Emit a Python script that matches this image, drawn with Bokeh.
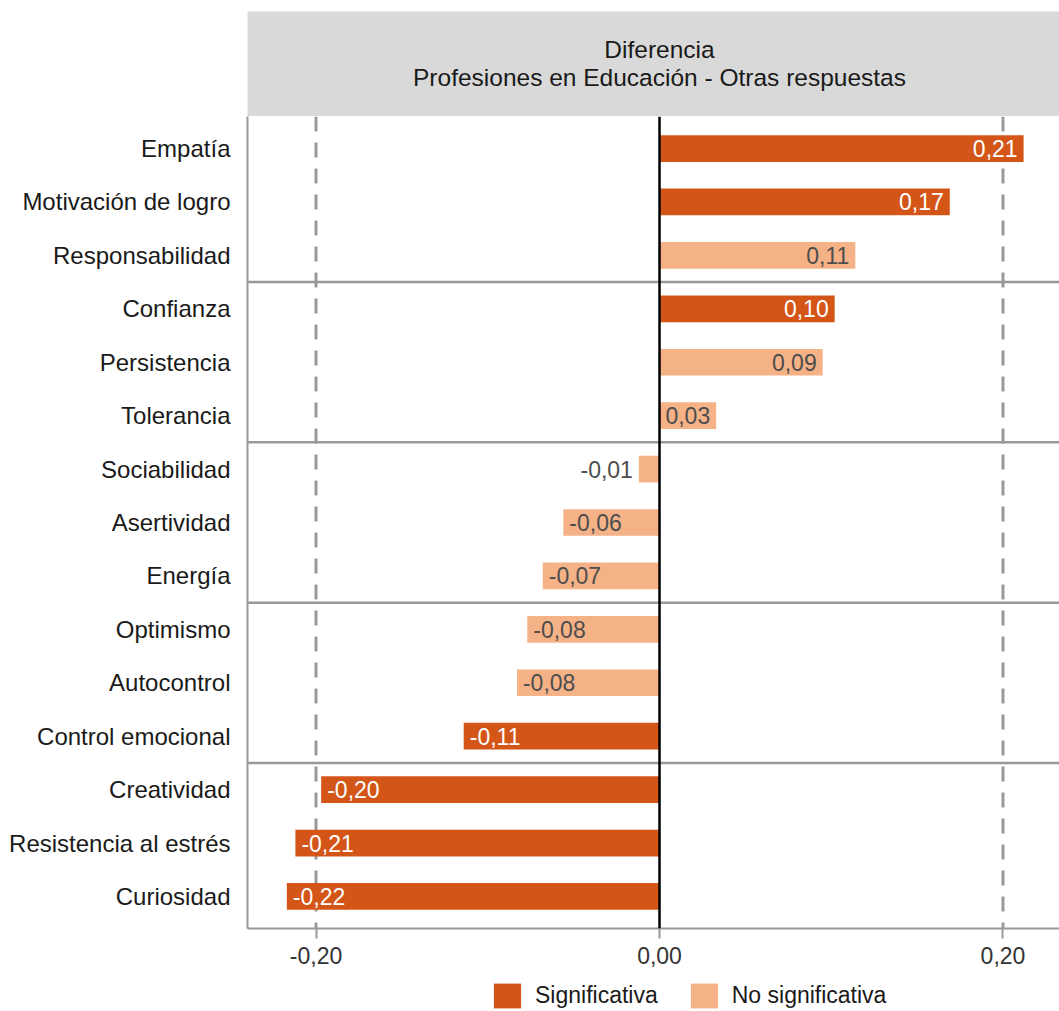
from bokeh.plotting import figure
from bokeh.models import Range1d, ColumnDataSource, Span, FixedTicker, Legend, LegendItem
from bokeh.layouts import column
from bokeh.embed import file_html
from bokeh.resources import INLINE
from bokeh.core.properties import value

# ---------------- data ----------------
categories = ["Empatía", "Motivación de logro", "Responsabilidad", "Confianza",
              "Persistencia", "Tolerancia", "Sociabilidad", "Asertividad", "Energía",
              "Optimismo", "Autocontrol", "Control emocional", "Creatividad",
              "Resistencia al estrés", "Curiosidad"]
diffs = [0.212, 0.169, 0.114, 0.102, 0.095, 0.033, -0.012, -0.056, -0.068,
         -0.077, -0.083, -0.114, -0.197, -0.212, -0.217]
value_labels = ["0,21", "0,17", "0,11", "0,10", "0,09", "0,03", "-0,01", "-0,06",
                "-0,07", "-0,08", "-0,08", "-0,11", "-0,20", "-0,21", "-0,22"]
significant = [True, True, False, True, False, False, False, False, False,
               False, False, True, True, True, True]
group_size = 3
x_ticks = [-0.2, 0.0, 0.2]
x_tick_labels = ["-0,20", "0,00", "0,20"]
reference_lines = [-0.2, 0.2]
header_lines = ["Diferencia", "Profesiones en Educación - Otras respuestas"]
legend_labels = ["Significativa", "No significativa"]

# ---------------- style ----------------
FONT = "Liberation Sans"
DARK = "#D35618"
LIGHT = "#F5B287"
GRAY = "#999999"
FS = "23px"
W = 1059
LB = 247

n = len(categories)
ys = list(range(n))
xr = Range1d(-0.2399, 0.2329)

# ---------------- header strip ----------------
header = figure(width=W, height=116, x_range=xr, y_range=Range1d(0, 1),
                output_backend="svg", toolbar_location=None,
                x_axis_location=None, y_axis_location=None,
                min_border_left=LB, min_border_right=0, min_border_top=11,
                min_border_bottom=0, background_fill_color="#d9d9d9",
                outline_line_color=None)
header.grid.visible = False
header.text(x=[0, 0], y=[0.638, 0.371], text=header_lines, text_align="center",
            text_baseline="middle", text_font=value(FONT), text_font_size="24.5px",
            text_color="#1a1a1a")

# ---------------- main plot ----------------
p = figure(width=W, height=863, x_range=xr, y_range=Range1d(n - 1 + 0.6, -0.6),
           output_backend="svg", toolbar_location=None,
           min_border_left=LB, min_border_right=0, min_border_top=0,
           min_border_bottom=51, outline_line_color=None)
p.grid.visible = False

for v in reference_lines:
    p.add_layout(Span(location=v, dimension="height", line_color=GRAY,
                      line_width=3, line_dash="15 11", level="underlay"))
for k in range(group_size, n, group_size):
    p.add_layout(Span(location=k - 0.5, dimension="width", line_color=GRAY,
                      line_width=2.5))

sig_idx = [i for i in range(n) if significant[i]]
ns_idx = [i for i in range(n) if not significant[i]]
src_sig = ColumnDataSource(dict(y=[ys[i] for i in sig_idx], x=[diffs[i] for i in sig_idx]))
src_ns = ColumnDataSource(dict(y=[ys[i] for i in ns_idx], x=[diffs[i] for i in ns_idx]))
p.hbar(y="y", left=0, right="x", height=0.5, source=src_sig,
       fill_color=DARK, line_color=None)
p.hbar(y="y", left=0, right="x", height=0.5, source=src_ns,
       fill_color=LIGHT, line_color=None)

p.add_layout(Span(location=0, dimension="height", line_color="black", line_width=2.5))

# value labels
right_lab = dict(x=[], y=[], t=[], c=[], o=[])
left_lab = dict(x=[], y=[], t=[], c=[], o=[])
for i in range(n):
    v = diffs[i]
    inside = abs(v) > 0.02
    col = "white" if (significant[i] and inside) else "#4d4d4d"
    if (v >= 0 and inside) or (v < 0 and not inside):
        d = right_lab
        off = -6
    else:
        d = left_lab
        off = 6
    d["x"].append(v); d["y"].append(ys[i]); d["t"].append(value_labels[i])
    d["c"].append(col); d["o"].append(off)
for d, al in ((right_lab, "right"), (left_lab, "left")):
    p.text(x="x", y="y", text="t", text_color="c", x_offset="o",
           source=ColumnDataSource(d), text_align=al, text_baseline="middle",
           text_font=value(FONT), text_font_size=FS)

# axes
p.yaxis.ticker = FixedTicker(ticks=ys)
p.yaxis.major_label_overrides = {i: categories[i] for i in range(n)}
p.yaxis.axis_line_color = GRAY
p.yaxis.axis_line_width = 2
p.yaxis.major_tick_line_color = None
p.yaxis.minor_tick_line_color = None
p.yaxis.major_label_standoff = 11
p.yaxis.major_label_text_font = FONT
p.yaxis.major_label_text_font_size = "24px"
p.yaxis.major_label_text_color = "#1a1a1a"

p.xaxis.ticker = FixedTicker(ticks=x_ticks)
p.xaxis.major_label_overrides = {x_ticks[i]: x_tick_labels[i] for i in range(len(x_ticks))}
p.xaxis.axis_line_color = GRAY
p.xaxis.axis_line_width = 2
p.xaxis.major_tick_line_color = GRAY
p.xaxis.major_tick_line_width = 2
p.xaxis.major_tick_out = 10
p.xaxis.major_tick_in = 0
p.xaxis.minor_tick_line_color = None
p.xaxis.major_label_standoff = 8
p.xaxis.major_label_text_font = FONT
p.xaxis.major_label_text_font_size = FS
p.xaxis.major_label_text_color = "#333333"

# ---------------- legend strip ----------------
lg = figure(width=W, height=32, x_range=Range1d(0, 1), y_range=Range1d(0, 1),
            output_backend="svg", toolbar_location=None,
            x_axis_location=None, y_axis_location=None,
            min_border_left=LB, min_border_right=0, min_border_top=0,
            min_border_bottom=0, outline_line_color=None)
lg.grid.visible = False
nan = float("nan")
lr_sig = lg.hbar(y="y", left=0, right="x", height=0.5,
                 source=ColumnDataSource(dict(y=[nan], x=[nan])),
                 fill_color=DARK, line_color=None)
lr_ns = lg.hbar(y="y", left=0, right="x", height=0.5,
                source=ColumnDataSource(dict(y=[nan], x=[nan])),
                fill_color=LIGHT, line_color=None)
legend = Legend(items=[LegendItem(label=legend_labels[0], renderers=[lr_sig]),
                       LegendItem(label=legend_labels[1], renderers=[lr_ns])],
                orientation="horizontal", location=(243, 0),
                glyph_width=34, glyph_height=31, label_standoff=11, spacing=29,
                padding=0, margin=0, border_line_color=None,
                background_fill_alpha=0, label_text_font=FONT,
                label_text_font_size=FS, label_text_color="#1a1a1a")
lg.add_layout(legend, "center")

layout = column(header, p, lg, spacing=0)
open("out.html", "w").write(file_html(layout, INLINE))
